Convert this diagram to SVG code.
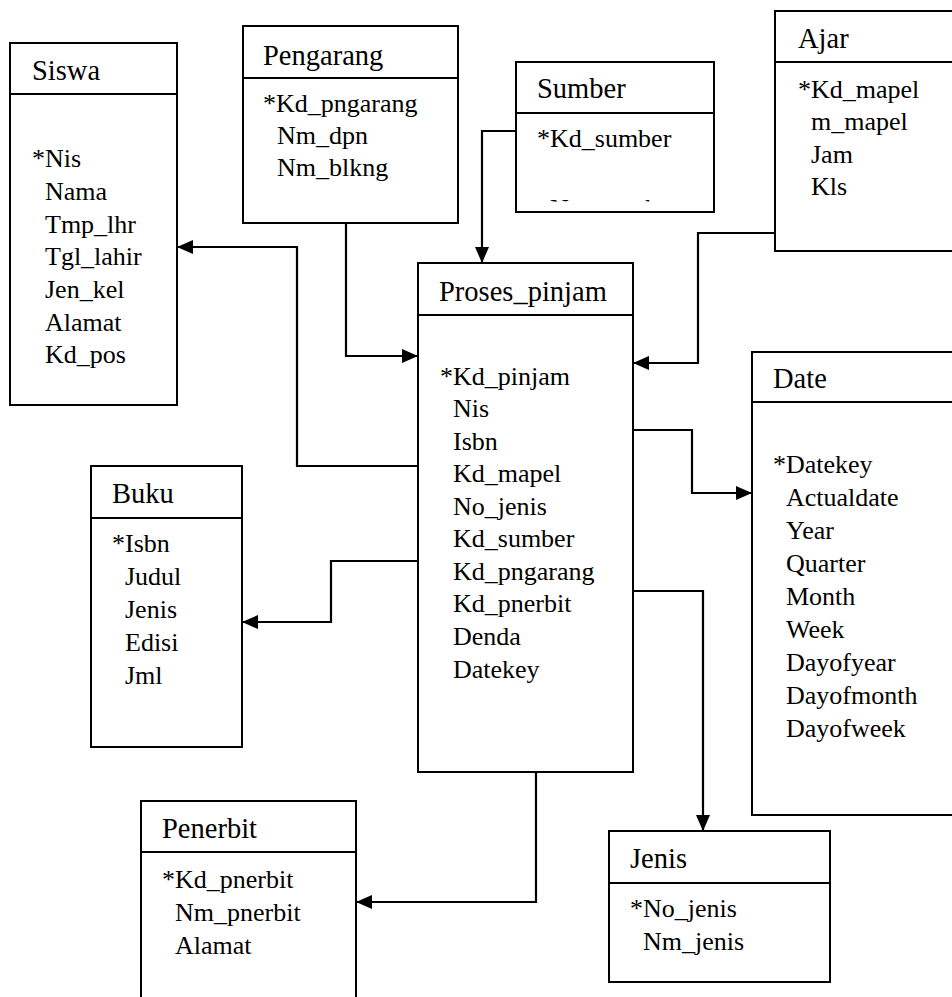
<svg xmlns="http://www.w3.org/2000/svg" width="952" height="997" viewBox="0 0 952 997">
<style>
.box{fill:#fff;stroke:#000;stroke-width:2}
.div{stroke:#000;stroke-width:2}
text{font-family:'Liberation Serif',Tinos,'Times New Roman',Times,'DejaVu Serif',serif;fill:#000}
.t{font-size:28.5px}
.f{font-size:26px}
.c{fill:none;stroke:#000;stroke-width:2.2}
</style>
<defs>
<marker id="arr" viewBox="0 0 16 14" refX="16" refY="7" markerWidth="16" markerHeight="14" markerUnits="userSpaceOnUse" orient="auto">
<path d="M0,0 L16,7 L0,14 Z" fill="#000"/>
</marker>
<clipPath id="clipSumber"><rect x="516" y="62" width="198" height="139.5"/></clipPath>
</defs>
<rect width="952" height="997" fill="#fff"/>

<g id="connectors">
<path class="c" d="M346,223 V356 H418" marker-end="url(#arr)"/>
<path class="c" d="M516,131 H482 V263" marker-end="url(#arr)"/>
<path class="c" d="M775,233 H698 V363 H633" marker-end="url(#arr)"/>
<path class="c" d="M418,466 H297 V247 H177" marker-end="url(#arr)"/>
<path class="c" d="M418,561 H331 V622 H242" marker-end="url(#arr)"/>
<path class="c" d="M633,430 H692 V493 H752" marker-end="url(#arr)"/>
<path class="c" d="M633,591 H703 V831" marker-end="url(#arr)"/>
<path class="c" d="M536,772 V902 H356" marker-end="url(#arr)"/>
</g>

<g id="siswa">
<rect class="box" x="10" y="43" width="167" height="362"/>
<line class="div" x1="10" y1="94" x2="177" y2="94"/>
<text class="t" x="32" y="80" font-family="Liberation Serif, serif">Siswa</text>
<text class="f" x="32" y="167">*Nis</text>
<text class="f" x="45" y="200">Nama</text>
<text class="f" x="45" y="233">Tmp_lhr</text>
<text class="f" x="45" y="265">Tgl_lahir</text>
<text class="f" x="45" y="298">Jen_kel</text>
<text class="f" x="45" y="331">Alamat</text>
<text class="f" x="45" y="363">Kd_pos</text>
</g>

<g id="pengarang">
<rect class="box" x="243" y="26" width="215" height="197"/>
<line class="div" x1="243" y1="78" x2="458" y2="78"/>
<text class="t" x="263" y="65">Pengarang</text>
<text class="f" x="263" y="112">*Kd_pngarang</text>
<text class="f" x="277" y="144">Nm_dpn</text>
<text class="f" x="277" y="176">Nm_blkng</text>
</g>

<g id="sumber">
<rect class="box" x="516" y="62" width="198" height="150"/>
<line class="div" x1="516" y1="113" x2="714" y2="113"/>
<text class="t" x="537" y="98">Sumber</text>
<text class="f" x="537" y="147">*Kd_sumber</text>
<text class="f" x="550" y="216.5" clip-path="url(#clipSumber)">Nm_sumber</text>
</g>

<g id="ajar">
<rect class="box" x="775" y="11" width="190" height="240"/>
<line class="div" x1="775" y1="62" x2="965" y2="62"/>
<text class="t" x="798" y="48">Ajar</text>
<text class="f" x="798" y="98">*Kd_mapel</text>
<text class="f" x="811" y="130">m_mapel</text>
<text class="f" x="811" y="163">Jam</text>
<text class="f" x="811" y="195">Kls</text>
</g>

<g id="proses_pinjam">
<rect class="box" x="418" y="263" width="215" height="509"/>
<line class="div" x1="418" y1="315" x2="633" y2="315"/>
<text class="t" x="439" y="301">Proses_pinjam</text>
<text class="f" x="440" y="385">*Kd_pinjam</text>
<text class="f" x="453" y="417">Nis</text>
<text class="f" x="453" y="450">Isbn</text>
<text class="f" x="453" y="482">Kd_mapel</text>
<text class="f" x="453" y="515">No_jenis</text>
<text class="f" x="453" y="547">Kd_sumber</text>
<text class="f" x="453" y="580">Kd_pngarang</text>
<text class="f" x="453" y="612">Kd_pnerbit</text>
<text class="f" x="453" y="645">Denda</text>
<text class="f" x="453" y="678">Datekey</text>
</g>

<g id="date">
<rect class="box" x="752" y="352" width="210" height="463"/>
<line class="div" x1="752" y1="402" x2="962" y2="402"/>
<text class="t" x="773" y="388">Date</text>
<text class="f" x="773" y="473">*Datekey</text>
<text class="f" x="786" y="506">Actualdate</text>
<text class="f" x="786" y="539">Year</text>
<text class="f" x="786" y="572">Quarter</text>
<text class="f" x="786" y="605">Month</text>
<text class="f" x="786" y="638">Week</text>
<text class="f" x="786" y="671">Dayofyear</text>
<text class="f" x="786" y="704">Dayofmonth</text>
<text class="f" x="786" y="737">Dayofweek</text>
</g>

<g id="buku">
<rect class="box" x="91" y="466" width="151" height="281"/>
<line class="div" x1="91" y1="518" x2="242" y2="518"/>
<text class="t" x="112" y="503">Buku</text>
<text class="f" x="112" y="552">*Isbn</text>
<text class="f" x="125" y="585">Judul</text>
<text class="f" x="125" y="618">Jenis</text>
<text class="f" x="125" y="651">Edisi</text>
<text class="f" x="125" y="684">Jml</text>
</g>

<g id="penerbit">
<rect class="box" x="141" y="801" width="215" height="210"/>
<line class="div" x1="141" y1="852" x2="356" y2="852"/>
<text class="t" x="162" y="838">Penerbit</text>
<text class="f" x="162" y="888">*Kd_pnerbit</text>
<text class="f" x="175" y="921">Nm_pnerbit</text>
<text class="f" x="175" y="954">Alamat</text>
</g>

<g id="jenis">
<rect class="box" x="609" y="831" width="221" height="151"/>
<line class="div" x1="609" y1="883" x2="830" y2="883"/>
<text class="t" x="630" y="868">Jenis</text>
<text class="f" x="630" y="917">*No_jenis</text>
<text class="f" x="643" y="950">Nm_jenis</text>
</g>
</svg>
